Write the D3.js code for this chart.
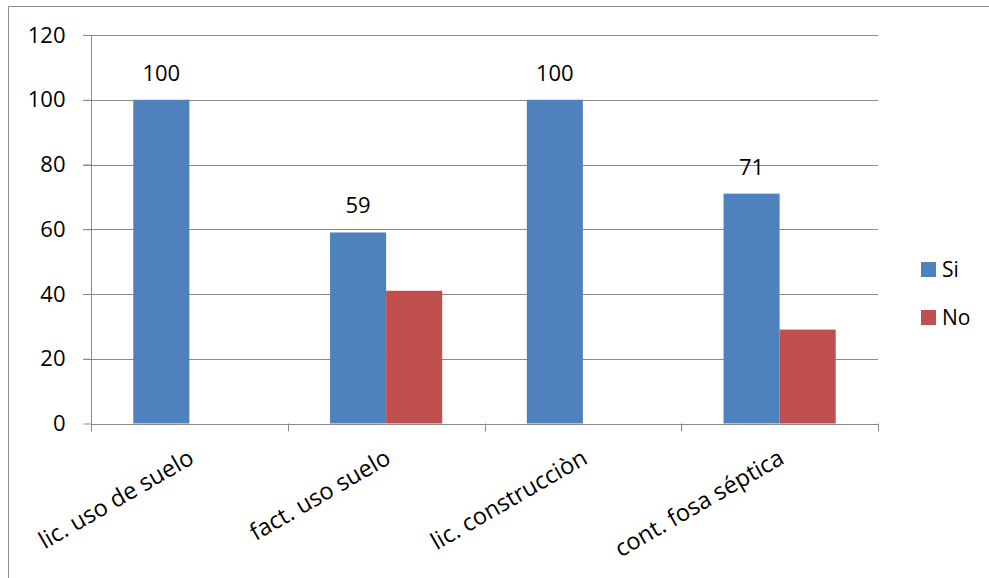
<!DOCTYPE html>
<html>
<head>
<meta charset="utf-8">
<script src="https://cdn.jsdelivr.net/npm/d3@7"></script>
<style>
  html, body { margin: 0; padding: 0; background: #fff; }
  svg { display: block; font-family: "Open Sans", "Liberation Sans", sans-serif; }
</style>
</head>
<body>
<svg id="chart" width="989" height="578"></svg>
<script>
// Chart data
const categories = ["lic. uso de suelo", "fact. uso suelo", "lic. construcciòn", "cont. fosa séptica"];
const seriesNames = ["Si", "No"];
const siValues = [100, 59, 100, 71];
const noValues = [0, 41, 0, 29];
const yTicks = [0, 20, 40, 60, 80, 100, 120];
const colors = { Si: "#4F81BD", No: "#C0504D" };

const svg = d3.select("#chart");
const W = 989, H = 578;
const plot = { left: 91, right: 878, top: 35, bottom: 423.5 };

// Outer frame (top and left edges)
svg.append("line").attr("x1", 8.5).attr("x2", W).attr("y1", 6.5).attr("y2", 6.5)
  .attr("stroke", "#8c8c8c").attr("stroke-width", 1);
svg.append("line").attr("x1", 8.5).attr("x2", 8.5).attr("y1", 6.5).attr("y2", H)
  .attr("stroke", "#8c8c8c").attr("stroke-width", 1);

const x0 = d3.scaleBand().domain(categories)
  .range([plot.left, plot.right])
  .paddingInner(0.43).paddingOuter(0.215);
const x1 = d3.scaleBand().domain(seriesNames).range([0, x0.bandwidth()]);
const y = d3.scaleLinear().domain([0, 120]).range([plot.bottom, plot.top]);

// Horizontal gridlines
svg.append("g").selectAll("line").data(yTicks.filter(t => t > 0)).join("line")
  .attr("x1", plot.left - 8).attr("x2", plot.right)
  .attr("y1", d => Math.round(y(d)) + 0.5).attr("y2", d => Math.round(y(d)) + 0.5)
  .attr("stroke", "#8a8a8a").attr("stroke-width", 1);

// Bars
const rows = categories.map((c, i) => ({ cat: c, Si: siValues[i], No: noValues[i] }));
const groups = svg.append("g").selectAll("g").data(rows).join("g")
  .attr("transform", d => `translate(${x0(d.cat)},0)`);
groups.selectAll("rect")
  .data(d => seriesNames.map(s => ({ s, v: d[s] })).filter(e => e.v > 0))
  .join("rect")
  .attr("x", d => x1(d.s))
  .attr("width", x1.bandwidth())
  .attr("y", d => y(d.v))
  .attr("height", d => y(0) - y(d.v))
  .attr("fill", d => colors[d.s]);

// Value labels above the "Si" bars
groups.append("text")
  .attr("x", x1("Si") + x1.bandwidth() / 2)
  .attr("y", d => y(d.Si) - 19)
  .attr("text-anchor", "middle")
  .attr("font-size", 22)
  .attr("fill", "#000")
  .text(d => d.Si);

// Y axis
const yAxis = d3.axisLeft(y).tickValues(yTicks).tickSize(8).tickPadding(18).tickFormat(d3.format("d"));
const gy = svg.append("g").attr("transform", `translate(${plot.left + 0.5},0)`).call(yAxis);
gy.select(".domain").attr("stroke", "#8a8a8a").attr("d", `M0,${plot.top}V${plot.bottom}`);
gy.selectAll(".tick line").attr("stroke", "#8a8a8a");
gy.selectAll(".tick text").attr("font-size", 22).attr("font-family", "Open Sans, Liberation Sans, sans-serif").attr("fill", "#000");

// X axis with ticks at category boundaries
const boundaries = d3.range(categories.length + 1).map(i => plot.left + i * x0.step());
svg.append("line").attr("x1", plot.left).attr("x2", plot.right)
  .attr("y1", Math.round(plot.bottom) + 0.5).attr("y2", Math.round(plot.bottom) + 0.5)
  .attr("stroke", "#8a8a8a");
svg.append("g").selectAll("line").data(boundaries).join("line")
  .attr("x1", d => Math.round(d) + 0.5).attr("x2", d => Math.round(d) + 0.5)
  .attr("y1", plot.bottom).attr("y2", plot.bottom + 8)
  .attr("stroke", "#8a8a8a");

// Category labels, rotated
svg.append("g").selectAll("text").data(categories).join("text")
  .attr("transform", d => `translate(${x0(d) + x0.bandwidth() / 2 + 6},${plot.bottom + 39}) rotate(-30)`)
  .attr("text-anchor", "end")
  .attr("font-size", 23.5)
  .attr("fill", "#000")
  .text(d => d);

// Legend
const legend = svg.append("g").selectAll("g").data(seriesNames).join("g")
  .attr("transform", (d, i) => `translate(921,${262 + i * 48})`);
legend.append("rect").attr("width", 15).attr("height", 15).attr("fill", d => colors[d]);
legend.append("text").attr("x", 21).attr("y", 15).attr("font-size", 21).attr("fill", "#000").text(d => d);
</script>
</body>
</html>
